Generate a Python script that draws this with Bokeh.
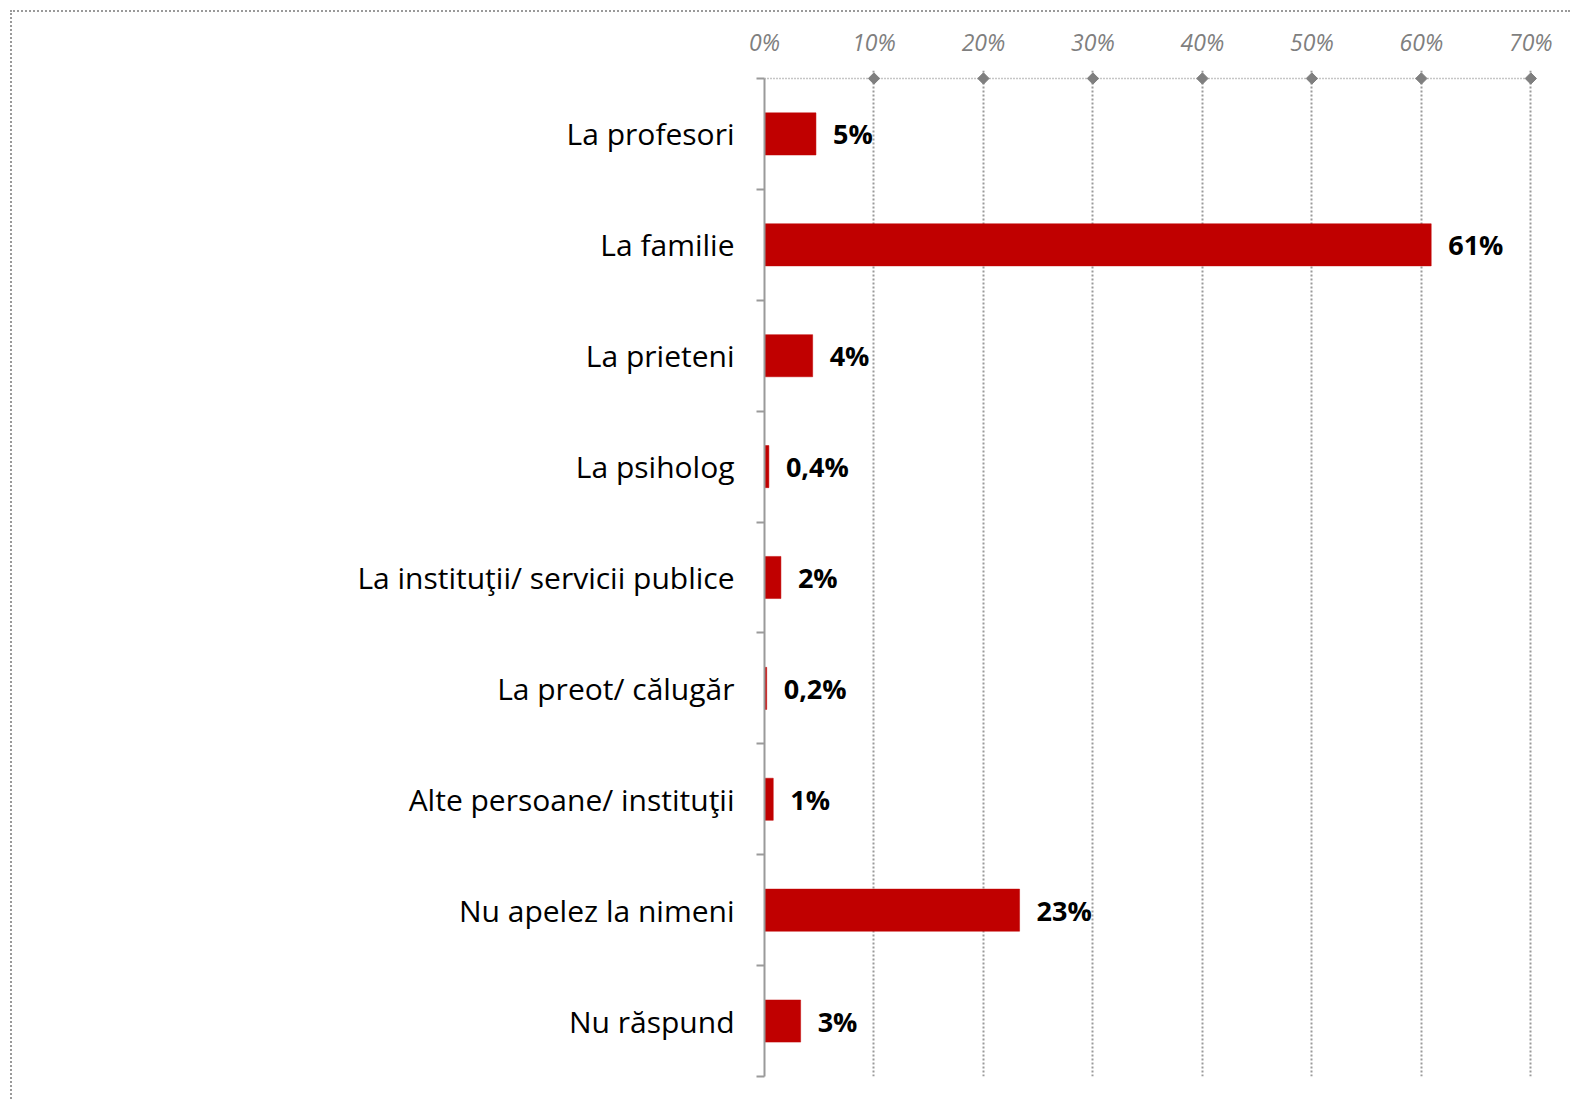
from math import pi

from bokeh.plotting import figure
from bokeh.models import Range1d, FixedTicker, LinearAxis, ColumnDataSource
from bokeh.core.properties import value
from bokeh.embed import file_html
from bokeh.resources import INLINE

# Survey answers (share of respondents, %)
categories = [
    "La profesori",
    "La familie",
    "La prieteni",
    "La psiholog",
    "La instituţii/ servicii publice",
    "La preot/ călugăr",
    "Alte persoane/ instituţii",
    "Nu apelez la nimeni",
    "Nu răspund",
]
shares = [4.7, 60.9, 4.4, 0.4, 1.5, 0.2, 0.8, 23.3, 3.3]
x_ticks = [0, 10, 20, 30, 40, 50, 60, 70]
x_tick_labels = ["0%", "10%", "20%", "30%", "40%", "50%", "60%", "70%"]

GRAY = "#8c8c8c"
BAR = "#c00000"


def fmt(v):
    # shares under half a percent keep one decimal (comma separator)
    if v < 0.5:
        return f"{v:.1f}".replace(".", ",") + "%"
    return f"{round(v)}%"


n = len(categories)
centers = [i + 0.5 for i in range(n)]
src = ColumnDataSource(dict(
    y=centers,
    share=shares,
    label=[fmt(v) for v in shares],
))

p = figure(
    width=1560, height=1089,
    x_range=Range1d(0, 70.7),
    y_range=Range1d(n, -0.072),
    output_backend="svg",
    toolbar_location=None,
    x_axis_location=None,
    min_border_left=752, min_border_right=34,
    min_border_top=58, min_border_bottom=25,
    outline_line_color=None,
    background_fill_color="white",
    border_fill_color="white",
)
p.margin = (10, 0, 0, 10)
p.styles = {"border-top": "2px dotted #9a9a9a", "border-left": "2px dotted #9a9a9a"}

# Vertical dotted grid
p.xgrid.ticker = FixedTicker(ticks=x_ticks[1:])
p.xgrid.grid_line_color = "#9a9a9a"
p.xgrid.grid_line_width = 2
p.xgrid.grid_line_dash = "2 2"
p.ygrid.grid_line_color = None

# Top percentage axis (labels only; the line is drawn as a dotted rule below)
top = LinearAxis(ticker=FixedTicker(ticks=x_ticks))
top.major_label_overrides = {t: s for t, s in zip(x_ticks, x_tick_labels)}
top.axis_line_color = None
top.major_tick_line_color = None
top.minor_tick_line_color = None
top.major_label_standoff = 7
top.major_label_text_font = "Open Sans"
top.major_label_text_font_style = "italic"
top.major_label_text_font_size = "23px"
top.major_label_text_color = "#7f7f7f"
p.add_layout(top, "above")

# Dotted axis rule at 0 with diamond tick markers
p.segment(x0=[x_ticks[0]], x1=[x_ticks[-1]], y0=[0], y1=[0],
          line_color=GRAY, line_width=1.5, line_dash="1 2")
p.scatter(x=x_ticks[1:], y=[0] * (len(x_ticks) - 1), marker="square",
          angle=pi / 4, size=8, fill_color="#7f7f7f", line_color="#7f7f7f")

# Category axis: labels at bar centres, ticks at category boundaries
yax = p.yaxis[0]
yax.ticker = FixedTicker(ticks=centers, minor_ticks=list(range(n + 1)))
yax.major_label_overrides = {c: s for c, s in zip(centers, categories)}
yax.bounds = (0, n)
yax.axis_line_color = "#9a9a9a"
yax.axis_line_width = 2
yax.major_tick_line_color = None
yax.major_tick_out = 0
yax.major_tick_in = 0
yax.minor_tick_line_color = "#9a9a9a"
yax.minor_tick_line_width = 2
yax.minor_tick_out = 8
yax.minor_tick_in = 0
yax.major_label_standoff = 22
yax.major_label_text_font = "Open Sans"
yax.major_label_text_font_size = "30px"
yax.major_label_text_color = "black"

# Bars and value labels
p.hbar(y="y", left=0, right="share", height=0.38, source=src,
       fill_color=BAR, line_color=BAR, line_width=0.5)
p.text(x="share", y="y", text="label", source=src,
       x_offset=17, text_baseline="middle", text_align="left",
       text_font=value("Open Sans"), text_font_style="bold",
       text_font_size="27px", text_color="black")

open("out.html", "w").write(file_html(p, INLINE))
